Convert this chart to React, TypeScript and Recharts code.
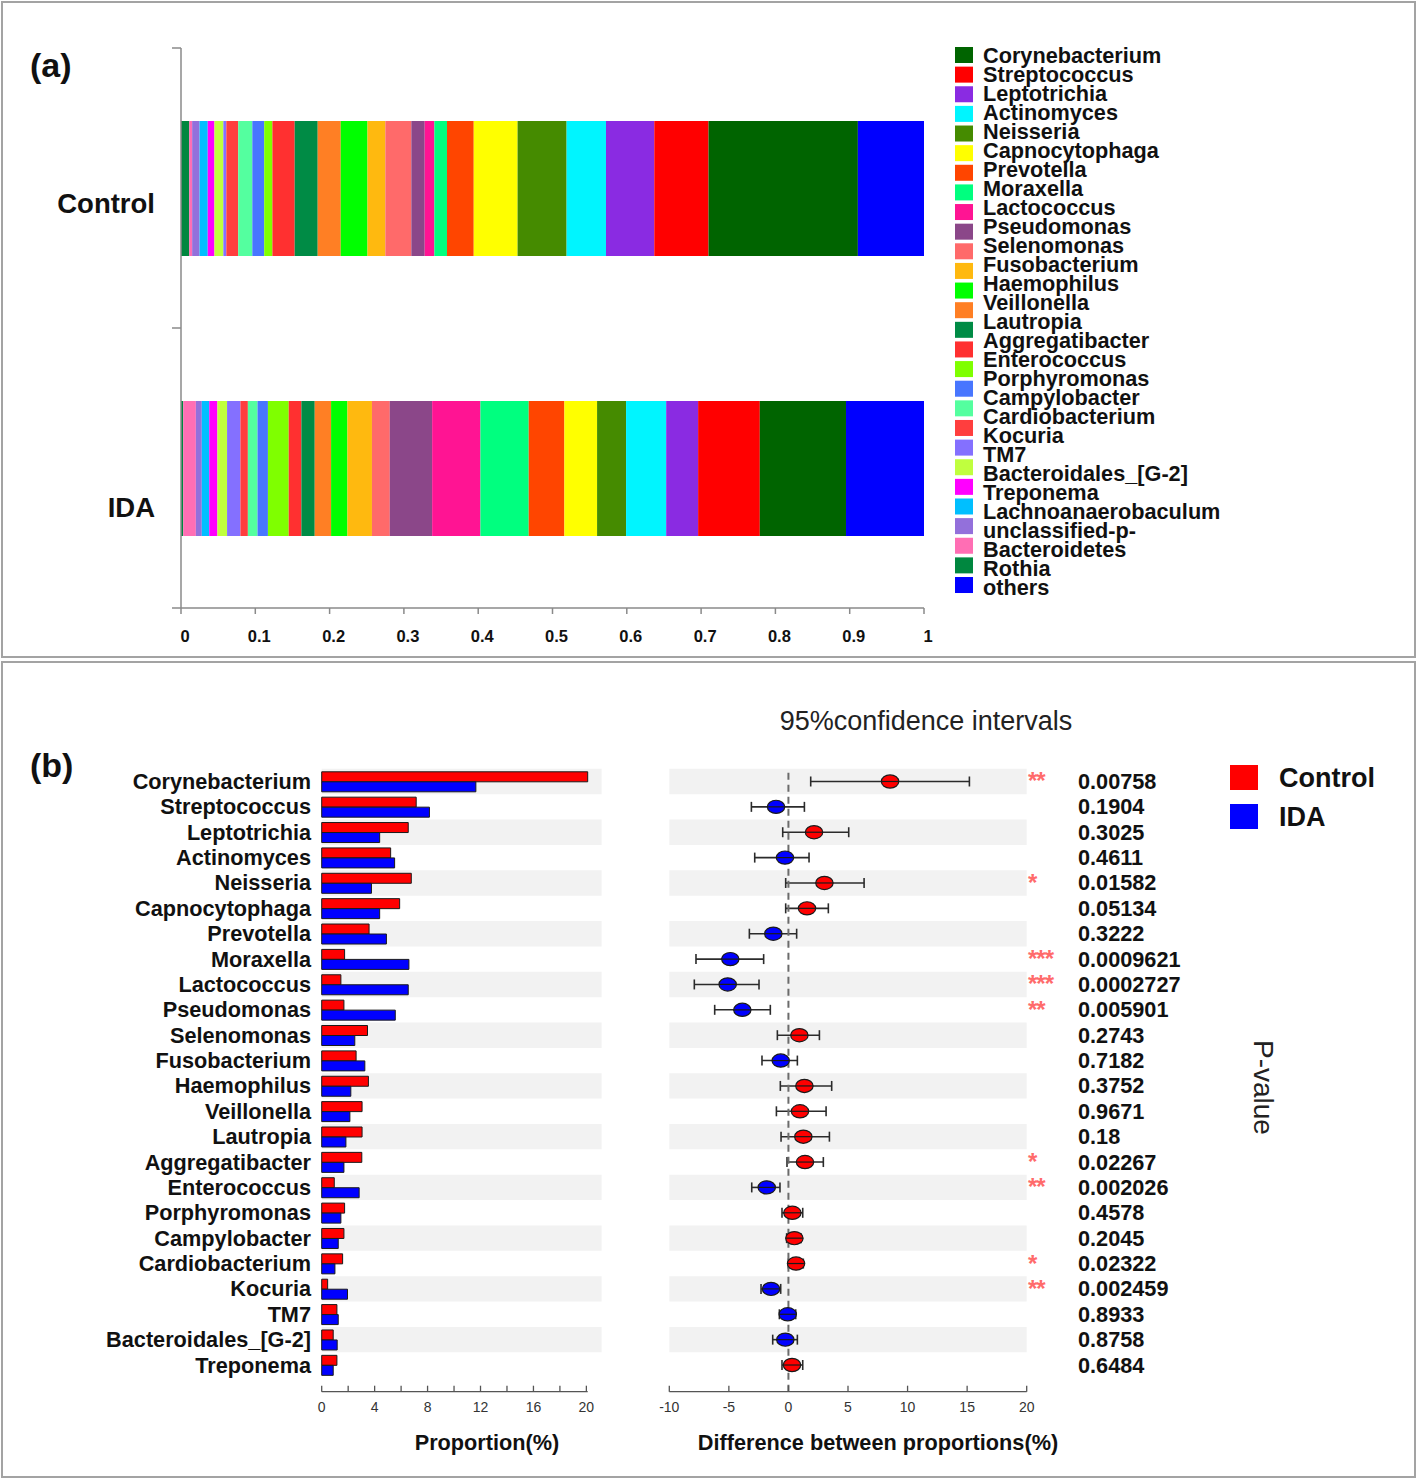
import React from 'react';
import {
  BarChart, Bar, ComposedChart, Scatter, ErrorBar, XAxis, YAxis,
  Legend, ReferenceArea, ReferenceLine,
} from 'recharts';

const FONT = '"Liberation Sans", Arial, Helvetica, sans-serif';

// ===== Panel (a): relative abundance =====
const groups = ['Control', 'IDA'];
const taxa = [
  'Corynebacterium', 'Streptococcus', 'Leptotrichia', 'Actinomyces', 'Neisseria',
  'Capnocytophaga', 'Prevotella', 'Moraxella', 'Lactococcus', 'Pseudomonas',
  'Selenomonas', 'Fusobacterium', 'Haemophilus', 'Veillonella', 'Lautropia',
  'Aggregatibacter', 'Enterococcus', 'Porphyromonas', 'Campylobacter', 'Cardiobacterium',
  'Kocuria', 'TM7', 'Bacteroidales_[G-2]', 'Treponema', 'Lachnoanaerobaculum',
  'unclassified-p-Bacteroidetes', 'Rothia', 'others',
];
const taxaColors = [
  '#006400', '#FF0000', '#8A2BE2', '#00F5FF', '#458B00',
  '#FFFF00', '#FF4500', '#00FF7F', '#FF1493', '#8B4789',
  '#FF6A6A', '#FFB90F', '#00FF00', '#FF7F24', '#008B45',
  '#FF3030', '#7FFF00', '#4876FF', '#54FF9F', '#FF3E3E',
  '#8470FF', '#C0FF3E', '#FF00FF', '#00BFFF', '#9370DB',
  '#FF6EB4', '#00873F', '#0000FF',
];
const controlAbundance = [
  0.201, 0.073, 0.065, 0.053, 0.066, 0.059, 0.036, 0.017, 0.013, 0.018,
  0.035, 0.024, 0.036, 0.031, 0.031, 0.030, 0.011, 0.016, 0.019, 0.016,
  0.004, 0.012, 0.009, 0.011, 0.010, 0.004, 0.011, 0.089,
];
const idaAbundance = [
  0.116, 0.083, 0.043, 0.054, 0.039, 0.044, 0.048, 0.065, 0.065, 0.057,
  0.024, 0.033, 0.022, 0.022, 0.018, 0.017, 0.028, 0.014, 0.013, 0.010,
  0.018, 0.013, 0.011, 0.010, 0.008, 0.017, 0.003, 0.105,
];
const abundanceTicks = [0, 0.1, 0.2, 0.3, 0.4, 0.5, 0.6, 0.7, 0.8, 0.9, 1];

// ===== Panel (b): extended error bar =====
const genera = [
  'Corynebacterium', 'Streptococcus', 'Leptotrichia', 'Actinomyces', 'Neisseria',
  'Capnocytophaga', 'Prevotella', 'Moraxella', 'Lactococcus', 'Pseudomonas',
  'Selenomonas', 'Fusobacterium', 'Haemophilus', 'Veillonella', 'Lautropia',
  'Aggregatibacter', 'Enterococcus', 'Porphyromonas', 'Campylobacter', 'Cardiobacterium',
  'Kocuria', 'TM7', 'Bacteroidales_[G-2]', 'Treponema',
];
const controlProportion = [
  20.1, 7.14, 6.54, 5.21, 6.77, 5.89, 3.58, 1.73, 1.45, 1.68,
  3.46, 2.60, 3.53, 3.05, 3.05, 3.03, 0.95, 1.73, 1.68, 1.58,
  0.45, 1.15, 0.87, 1.15,
];
const idaProportion = [
  11.65, 8.14, 4.38, 5.51, 3.76, 4.38, 4.89, 6.59, 6.54, 5.56,
  2.50, 3.26, 2.20, 2.13, 1.83, 1.68, 2.83, 1.45, 1.25, 1.00,
  1.95, 1.25, 1.17, 0.87,
];
const proportionTicks = [0, 2, 4, 6, 8, 10, 12, 14, 16, 18, 20];
const diffMean = [
  8.53, -1.04, 2.15, -0.29, 3.02, 1.56, -1.27, -4.88, -5.10, -3.87,
  0.92, -0.65, 1.34, 0.97, 1.25, 1.39, -1.82, 0.33, 0.50, 0.64,
  -1.46, -0.06, -0.26, 0.30,
];
const ciLower = [
  1.87, -3.11, -0.48, -2.83, -0.23, -0.23, -3.28, -7.76, -7.90, -6.19,
  -0.93, -2.22, -0.68, -1.01, -0.62, -0.12, -3.08, -0.54, -0.15, -0.01,
  -2.30, -0.76, -1.32, -0.54,
];
const ciUpper = [
  15.19, 1.34, 5.06, 1.73, 6.35, 3.35, 0.69, -2.08, -2.47, -1.52,
  2.60, 0.75, 3.63, 3.16, 3.44, 2.93, -0.71, 1.20, 1.06, 1.25,
  -0.65, 0.61, 0.75, 1.20,
];
const diffTicks = [-10, -5, 0, 5, 10, 15, 20];
const pValues = [
  '0.00758', '0.1904', '0.3025', '0.4611', '0.01582', '0.05134', '0.3222', '0.0009621',
  '0.0002727', '0.005901', '0.2743', '0.7182', '0.3752', '0.9671', '0.18', '0.02267',
  '0.002026', '0.4578', '0.2045', '0.02322', '0.002459', '0.8933', '0.8758', '0.6484',
];
const groupColors = ['#FF0000', '#0000FF'];

// ===== layout constants =====
const W = 1418;
const H = 1479;
const A_BAND_HALF = 140;           // half of a category band in panel (a)
const groupLabelDy = [15, 39];
const PROP_BAND_END = 21.15;       // stripes extend a bit past the 20% tick
const BAND_FILL = '#F2F2F2';

// ===== derived tables =====
const abundanceRows = groups.map((g, gi) => {
  const vals = gi === 0 ? controlAbundance : idaAbundance;
  const row: any = { group: g };
  taxa.forEach((_, i) => { row[`t${i}`] = vals[i]; });
  return row;
});
const othersIdx = taxa.indexOf('others');
const stackOrder = taxa.map((_, i) => i).filter((i) => i !== othersIdx).reverse().concat([othersIdx]);

const proportionRows = genera.map((g, i) => ({ name: g, control: controlProportion[i], ida: idaProportion[i] }));
const ciRows = genera.map((g, i) => ({
  name: g,
  diff: diffMean[i],
  err: [diffMean[i] - ciLower[i], ciUpper[i] - diffMean[i]],
}));

const starsFor = (p: number) => (p < 0.001 ? '***' : p < 0.01 ? '**' : p < 0.05 ? '*' : '');

const legendLines = (label: string) =>
  label.startsWith('unclassified-p-') ? ['unclassified-p-', label.slice('unclassified-p-'.length)] : [label];

// ===== custom pieces =====
function AbundanceTick(props: any) {
  const { x, y, payload } = props;
  return (
    <g>
      <line x1={x} x2={x} y1={y} y2={y + 6} stroke="#8a8a8a" strokeWidth={1.5} />
      <text x={x + 4} y={y + 28} textAnchor="middle" dominantBaseline="central"
        fontFamily={FONT} fontWeight="bold" fontSize={16.5} fill="#111">{String(payload.value)}</text>
    </g>
  );
}

function GroupTick(props: any) {
  const { x, y, payload, index } = props;
  return (
    <g>
      <line x1={x - 9} x2={x} y1={y - A_BAND_HALF} y2={y - A_BAND_HALF} stroke="#8a8a8a" strokeWidth={1.5} />
      {index === groups.length - 1 && (
        <line x1={x - 9} x2={x} y1={y + A_BAND_HALF} y2={y + A_BAND_HALF} stroke="#8a8a8a" strokeWidth={1.5} />
      )}
      <text x={x - 26} y={y + groupLabelDy[index]} textAnchor="end" dominantBaseline="central"
        fontFamily={FONT} fontWeight="bold" fontSize={27.5} fill="#111">{payload.value}</text>
    </g>
  );
}

function TaxaLegend() {
  const lines: string[] = [];
  taxa.forEach((t) => legendLines(t).forEach((l) => lines.push(l)));
  return (
    <svg width={300} height={570} style={{ display: 'block' }}>
      {taxa.map((t, i) => (
        <rect key={t} x={0} y={3 + i * 19.63} width={18} height={16} fill={taxaColors[i]} />
      ))}
      {lines.map((l, j) => (
        <text key={j} x={28} y={11 + j * 19} dominantBaseline="central"
          fontFamily={FONT} fontWeight="bold" fontSize={21.7} fill="#111">{l}</text>
      ))}
    </svg>
  );
}

function GroupLegend() {
  return (
    <svg width={180} height={70} style={{ display: 'block' }}>
      {groups.map((g, i) => (
        <g key={g}>
          <rect x={0} y={2 + i * 39} width={28} height={25} fill={groupColors[i]} />
          <text x={49} y={15 + i * 38.5} dominantBaseline="central"
            fontFamily={FONT} fontWeight="bold" fontSize={27} fill="#111">{g}</text>
        </g>
      ))}
    </svg>
  );
}

function makeSmallTick(labelEvery: number) {
  return (props: any) => {
    const { x, y, payload } = props;
    const v = payload.value;
    return (
      <g>
        <line x1={x} x2={x} y1={y} y2={y - 6} stroke="#555" strokeWidth={1.3} />
        {v % labelEvery === 0 && (
          <text x={x} y={y + 15} textAnchor="middle" dominantBaseline="central"
            fontFamily={FONT} fontSize={14} fill="#333">{String(v)}</text>
        )}
      </g>
    );
  };
}

function GenusTick(props: any) {
  const { x, y, payload } = props;
  return (
    <text x={x - 10.7} y={y} textAnchor="end" dominantBaseline="central"
      fontFamily={FONT} fontWeight="bold" fontSize={21.7} fill="#111">{payload.value}</text>
  );
}

function PValueTick(props: any) {
  const { x, y, payload } = props;
  const i = genera.indexOf(payload.value);
  const pStr = pValues[i];
  const stars = starsFor(parseFloat(pStr));
  return (
    <g>
      {stars && (
        <text x={x + 1.3} y={y + 8} fontFamily={FONT} fontWeight="bold" fontSize={24}
          letterSpacing={-1} fill="#FF6B6B">{stars}</text>
      )}
      <text x={x + 51.3} y={y} dominantBaseline="central"
        fontFamily={FONT} fontWeight="bold" fontSize={21.7} fill="#111">{pStr}</text>
    </g>
  );
}

function DiffMarker(props: any) {
  const { cx, cy, payload } = props;
  if (cx == null || cy == null) return null;
  const fill = payload.diff >= 0 ? groupColors[0] : groupColors[1];
  return (
    <g>
      <ellipse cx={cx} cy={cy} rx={8.7} ry={6.6} fill={fill} stroke="#1a1a1a" strokeWidth={1.2} />
      <line x1={cx - 8.7} x2={cx + 8.7} y1={cy} y2={cy} stroke="#1a1a1a" strokeWidth={1.2} />
    </g>
  );
}

function Note(props: any) {
  const { x, y, size, bold, anchor, children, color } = props;
  const centered = anchor === 'middle';
  return (
    <div style={{
      position: 'absolute',
      left: centered ? x - 400 : x,
      width: centered ? 800 : undefined,
      textAlign: centered ? 'center' : 'left',
      top: y - size / 2,
      fontSize: size,
      lineHeight: `${size}px`,
      fontWeight: bold ? 'bold' : 'normal',
      whiteSpace: 'nowrap',
      color: color || '#111',
      fontFamily: FONT,
    }}>{children}</div>
  );
}

export default function App() {
  const abs: React.CSSProperties = { position: 'absolute', left: 0, top: 0 };
  return (
    <div style={{ position: 'relative', width: W, height: H, overflow: 'hidden', background: '#fff', fontFamily: FONT }}>
      <style>{'html,body{margin:0;padding:0;background:#fff;}'}</style>

      {/* panel frames */}
      <div style={{ position: 'absolute', left: 1, top: 1, width: 1415, height: 657, border: '2px solid #a3a3a3', boxSizing: 'border-box' }} />
      <div style={{ position: 'absolute', left: 1, top: 661, width: 1415, height: 817, border: '2px solid #a3a3a3', boxSizing: 'border-box' }} />

      {/* ===== Panel (a) ===== */}
      <div style={abs}>
        <BarChart width={W} height={660} layout="vertical" data={abundanceRows}
          margin={{ top: 48, right: 494, bottom: 0, left: 0 }}>
          <XAxis type="number" domain={[0, 1]} ticks={abundanceTicks} interval={0} height={52}
            axisLine={{ stroke: '#8a8a8a', strokeWidth: 1.5 }} tickLine={false} tickSize={0} tickMargin={0}
            tick={(p: any) => <AbundanceTick {...p} />} />
          <YAxis type="category" dataKey="group" width={181} interval={0}
            axisLine={{ stroke: '#8a8a8a', strokeWidth: 1.5 }} tickLine={false} tickSize={0} tickMargin={0}
            tick={(p: any) => <GroupTick {...p} />} />
          {stackOrder.map((i) => (
            <Bar key={i} dataKey={`t${i}`} name={taxa[i]} stackId="s" fill={taxaColors[i]}
              barSize={135} isAnimationActive={false} />
          ))}
          <Legend layout="horizontal" verticalAlign="middle" align="center"
            wrapperStyle={{ position: 'absolute', left: 955, top: 44, width: 300, height: 570 }}
            content={() => <TaxaLegend />} />
        </BarChart>
      </div>

      {/* ===== Panel (b) left: proportions ===== */}
      <div style={abs}>
        <BarChart width={W} height={H} layout="vertical" data={proportionRows}
          margin={{ top: 768.8, right: 830.3, bottom: 57.3, left: 0 }} barGap={0} barSize={10}>
          {genera.map((g, i) => (i % 2 === 0 ? (
            <ReferenceArea key={g} y1={g} y2={g} x1={0} x2={PROP_BAND_END} fill={BAND_FILL}
              fillOpacity={1} stroke="none" ifOverflow="visible" />
          ) : null))}
          <XAxis type="number" domain={[0, 20]} ticks={proportionTicks} interval={0} height={30}
            axisLine={{ stroke: '#555', strokeWidth: 1.3 }} tickLine={false} tickSize={0} tickMargin={0}
            tick={makeSmallTick(4)} />
          <YAxis type="category" dataKey="name" width={321.7} interval={0} axisLine={false}
            tickLine={false} tickSize={0} tickMargin={0} padding={{ top: 0, bottom: 14 }}
            tick={(p: any) => <GenusTick {...p} />} />
          <Bar dataKey="control" name="Control" fill={groupColors[0]} stroke="#1a1a1a" strokeWidth={1}
            isAnimationActive={false} />
          <Bar dataKey="ida" name="IDA" fill={groupColors[1]} stroke="#1a1a1a" strokeWidth={1}
            isAnimationActive={false} />
        </BarChart>
      </div>

      {/* ===== Panel (b) middle: differences with 95% CI ===== */}
      <div style={abs}>
        <ComposedChart width={W} height={H} layout="vertical" data={ciRows}
          margin={{ top: 768.8, right: 0, bottom: 57.3, left: 669.3 }}>
          {genera.map((g, i) => (i % 2 === 0 ? (
            <ReferenceArea key={g} y1={g} y2={g} fill={BAND_FILL} fillOpacity={1} stroke="none" />
          ) : null))}
          <XAxis type="number" dataKey="diff" domain={[-10, 20]} ticks={diffTicks} interval={0} height={30}
            allowDataOverflow axisLine={{ stroke: '#555', strokeWidth: 1.3 }} tickLine={false} tickSize={0}
            tickMargin={0} tick={makeSmallTick(5)} />
          <YAxis type="category" scale="band" dataKey="name" orientation="right" width={391.3} interval={0}
            axisLine={false} tickLine={false} tickSize={0} tickMargin={0} padding={{ top: 0, bottom: 14 }}
            tick={(p: any) => <PValueTick {...p} />} />
          <Scatter dataKey="diff" name="difference" isAnimationActive={false}
            shape={(p: any) => <DiffMarker {...p} />}>
            <ErrorBar dataKey="err" direction="x" width={5} stroke="#2b2b2b" strokeWidth={1.6} />
          </Scatter>
          <ReferenceLine x={0} stroke="#6b6b6b" strokeWidth={2} strokeDasharray="7 5" />
          <Legend layout="horizontal" verticalAlign="middle" align="center"
            wrapperStyle={{ position: 'absolute', left: 1230, top: 763, width: 180, height: 70 }}
            content={() => <GroupLegend />} />
        </ComposedChart>
      </div>

      {/* ===== free text ===== */}
      <Note x={30} y={65} size={34} bold>(a)</Note>
      <Note x={30} y={765} size={34} bold>(b)</Note>
      <Note x={926} y={721} size={27} anchor="middle" color="#222">95%confidence intervals</Note>
      <Note x={487} y={1443} size={21.7} bold anchor="middle">Proportion(%)</Note>
      <Note x={878} y={1443} size={21.7} bold anchor="middle">Difference between proportions(%)</Note>
      <div style={{
        position: 'absolute', left: 1249, top: 1040, writingMode: 'vertical-rl', fontSize: 28,
        lineHeight: '28px', color: '#222', fontFamily: FONT, whiteSpace: 'nowrap',
      }}>P-value</div>
    </div>
  );
}
